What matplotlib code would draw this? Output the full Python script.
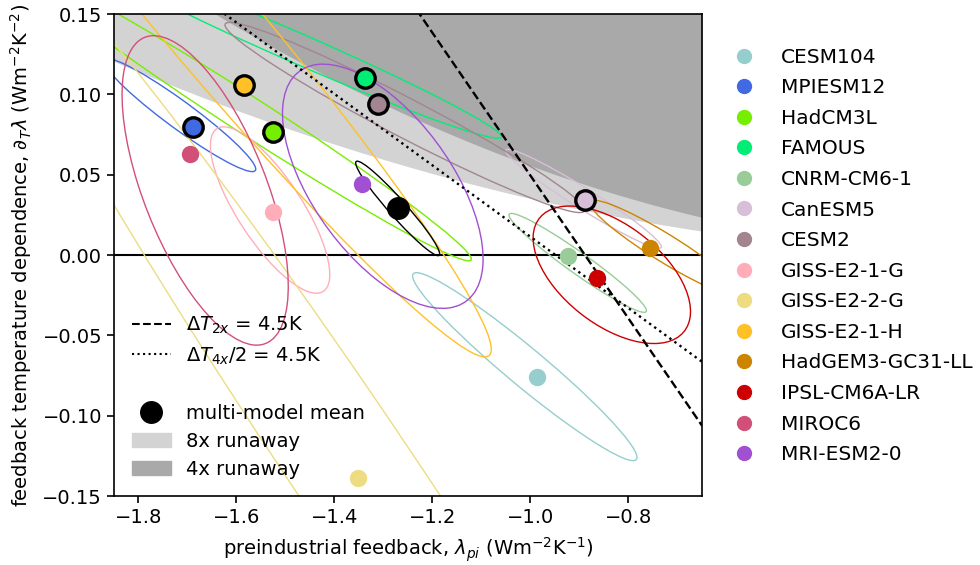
import numpy as np
import matplotlib
matplotlib.use('Agg')
import matplotlib.pyplot as plt
from matplotlib.patches import Ellipse, Patch
from matplotlib.lines import Line2D

plt.rcParams['font.size'] = 14

models = ['CESM104', 'MPIESM12', 'HadCM3L', 'FAMOUS', 'CNRM-CM6-1', 'CanESM5', 'CESM2',
          'GISS-E2-1-G', 'GISS-E2-2-G', 'GISS-E2-1-H', 'HadGEM3-GC31-LL', 'IPSL-CM6A-LR',
          'MIROC6', 'MRI-ESM2-0']
colors = ['#96CDCD', '#4169E1', '#76EE00', '#00EE76', '#99CC99', '#D8BFD8', '#A28590',
          '#FFAEB9', '#EEDC82', '#FFC125', '#CD8500', '#CD0000', '#D25078', '#A050D0']

# best estimates
lam_pi = [-0.987, -1.689, -1.526, -1.338, -0.924, -0.889, -1.312,
          -1.526, -1.352, -1.585, -0.757, -0.865, -1.695, -1.344]
dT_lam = [-0.076, 0.0797, 0.0765, 0.110, -0.0006, 0.034, 0.094,
          0.027, -0.139, 0.106, 0.0044, -0.0143, 0.063, 0.044]
runaway = ['MPIESM12', 'HadCM3L', 'FAMOUS', 'CanESM5', 'CESM2', 'GISS-E2-1-H']

# uncertainty ellipses: centre, x/y half extent, correlation
ell_x = [-1.0116, -1.7157, -1.573, -1.4708, -0.9035, -0.8916, -1.2565,
         -1.5314, -1.352, -1.670, -0.7259, -0.834, -1.6639, -1.3014]
ell_y = [-0.0695, 0.0871, 0.0862, 0.1281, -0.0049, 0.035, 0.0856,
         0.028, -0.139, 0.150, 0.0044, -0.0123, 0.0402, 0.0428]
ell_sx = [0.229, 0.155, 0.4524, 0.4116, 0.1402, 0.1588, 0.367,
          0.1218, 0.787, 0.590, 0.153, 0.1606, 0.1696, 0.2047]
ell_sy = [0.0585, 0.0352, 0.0898, 0.0554, 0.0308, 0.0308, 0.0592,
          0.0518, 0.3547, 0.2134, 0.0297, 0.0428, 0.0963, 0.076]
ell_rho = [-0.965, -0.954, -0.988, -0.983, -0.965, -0.97, -0.973,
           -0.776, -0.983, -0.978, -0.941, -0.534, -0.619, -0.595]

# multi-model mean
mean_pt = [-1.271, 0.029]
mean_ell = [0.0857, 0.0294, -0.962]

# forcings (Wm-2) used for the threshold curves
F2x = 4.0
F4x = 8.54
F4x_run = 9.0
F8x_run = 14.2
T_crit = 4.5


def ellipse(cx, cy, sx, sy, rho, color, lw=1.0):
    cov = np.array([[sx**2, rho*sx*sy], [rho*sx*sy, sy**2]])
    vals, vecs = np.linalg.eigh(cov)
    ang = np.degrees(np.arctan2(vecs[1, 1], vecs[0, 1]))
    return Ellipse((cx, cy), 2*np.sqrt(vals[1]), 2*np.sqrt(vals[0]), angle=ang,
                   fill=False, edgecolor=color, lw=lw)


fig = plt.figure(figsize=(9.8, 5.65), dpi=100)
ax = fig.add_axes([0.1163, 0.1221, 0.6, 0.8531])

xs = np.linspace(-1.85, -0.65, 300)
ax.fill_between(xs, xs**2/(2*F8x_run), 0.2, color='lightgray', lw=0, zorder=0)
ax.fill_between(xs, xs**2/(2*F4x_run), 0.2, color='darkgray', lw=0, zorder=0)

ax.axhline(0, color='k', lw=1.5, zorder=1)

for i in range(len(models)):
    ax.add_patch(ellipse(ell_x[i], ell_y[i], ell_sx[i], ell_sy[i], ell_rho[i], colors[i]))
ax.add_patch(ellipse(mean_pt[0], mean_pt[1], mean_ell[0], mean_ell[1], mean_ell[2], 'k'))

ax.plot(xs, -(2*F2x + 2*T_crit*xs)/T_crit**2, 'k--', lw=1.7, zorder=3)
ax.plot(xs, -(2*F4x + 4*T_crit*xs)/(2*T_crit)**2, 'k:', lw=1.7, zorder=3)

for i in range(len(models)):
    if models[i] in runaway:
        ax.plot(lam_pi[i], dT_lam[i], 'o', color=colors[i], ms=14, mec='k', mew=2.4, zorder=5)
    else:
        ax.plot(lam_pi[i], dT_lam[i], 'o', color=colors[i], ms=12.5, mec='none', zorder=5)
ax.plot(mean_pt[0], mean_pt[1], 'o', color='k', ms=15.5, zorder=6)

ax.set_xlim(-1.85, -0.65)
ax.set_ylim(-0.15, 0.15)
ax.set_xticks([-1.8, -1.6, -1.4, -1.2, -1.0, -0.8])
ax.set_yticks([-0.15, -0.10, -0.05, 0.00, 0.05, 0.10, 0.15])
ax.tick_params(length=5, width=1.2)
ax.set_xlabel(r'preindustrial feedback, $\lambda_{pi}$ (Wm$^{-2}$K$^{-1}$)', labelpad=6)
ax.set_ylabel(r'feedback temperature dependence, $\partial_T\lambda$ (Wm$^{-2}$K$^{-2}$)', labelpad=6)
for s in ax.spines.values():
    s.set_linewidth(1.2)

h1 = [Line2D([], [], color='k', ls='--', lw=1.5),
      Line2D([], [], color='k', ls=':', lw=1.5),
      Line2D([], [], ls='none'),
      Line2D([], [], marker='o', ls='none', color='k', ms=15.5),
      Patch(color='lightgray'),
      Patch(color='darkgray')]
l1 = [r'$\Delta T_{2x}$ = 4.5K', r'$\Delta T_{4x}/2$ = 4.5K', ' ',
      'multi-model mean', '8x runaway', '4x runaway']
leg1 = ax.legend(h1, l1, loc='lower left', bbox_to_anchor=(0.017, 0.019),
                 borderaxespad=0, frameon=False, labelspacing=0.47)
ax.add_artist(leg1)

h2 = [Line2D([], [], marker='o', ls='none', color=c, ms=10) for c in colors]
ax.legend(h2, models, loc='upper left', bbox_to_anchor=(1.024, 0.947),
          borderaxespad=0, frameon=False, labelspacing=0.575, fontsize=14.5)

plt.savefig('out.png', dpi=100)
